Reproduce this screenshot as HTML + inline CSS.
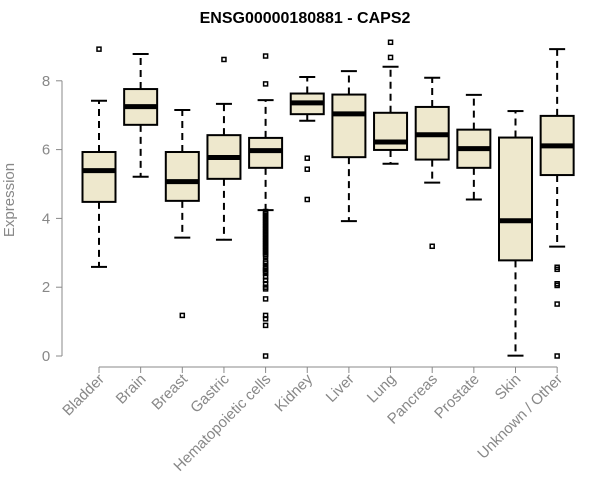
<!DOCTYPE html>
<html><head><meta charset="utf-8"><style>body{margin:0;background:#fff}svg{display:block;font-family:"Liberation Sans",Arial,sans-serif}</style></head>
<body>
<svg id="chart" width="600" height="500" viewBox="0 0 600 500">
<text x="305" y="23" text-anchor="middle" font-weight="bold" font-size="16">ENSG00000180881 - CAPS2</text>
<text transform="translate(14,200) rotate(-90)" text-anchor="middle" font-size="15" fill="#888">Expression</text>
<g id="yaxis"></g>
<g id="xaxis"></g>
<g id="boxes"></g>
</svg>
<script>
const categories=["Bladder","Brain","Breast","Gastric","Hematopoietic cells","Kidney","Liver","Lung","Pancreas","Prostate","Skin","Unknown / Other"];
const whiskerLow=[2.59,5.21,3.44,3.38,4.24,6.84,3.92,5.59,5.04,4.55,0.01,3.18];
const q1=[4.48,6.72,4.51,5.15,5.47,7.03,5.78,5.99,5.71,5.47,2.78,5.26];
const median=[5.39,7.25,5.07,5.77,5.97,7.36,7.04,6.22,6.43,6.03,3.93,6.11];
const q3=[5.93,7.76,5.93,6.42,6.34,7.63,7.60,7.07,7.24,6.58,6.35,6.98];
const whiskerHigh=[7.42,8.78,7.15,7.33,7.44,8.11,8.28,8.41,8.09,7.59,7.12,8.92];
const outliers=[[8.92],[],[1.18],[8.62],
[8.72,7.91,4.2,4.15,4.1,4.05,4.0,3.95,3.9,3.85,3.8,3.75,3.7,3.65,3.6,3.55,3.5,3.45,3.4,3.35,3.3,3.25,3.2,3.15,3.1,3.05,3.0,2.95,2.9,2.75,2.7,2.6,2.55,2.5,2.45,2.4,2.3,2.2,2.1,2.0,1.95,1.66,1.18,1.08,0.89,0],
[5.75,5.43,4.55],[],[9.12,8.68],[3.19],[],[],[2.58,2.52,2.1,2.05,1.51,0]];
const yTicks=[0,2,4,6,8];
const NS="http://www.w3.org/2000/svg";
const y=v=>356-v*34.4;
const x=i=>99+i*41.65;
function mk(t,a,p){const e=document.createElementNS(NS,t);for(const k in a)e.setAttribute(k,a[k]);p.appendChild(e);return e;}
const ya=document.getElementById('yaxis');
mk('line',{x1:62,x2:62,y1:y(0),y2:y(8),stroke:'#888'},ya);
yTicks.forEach(t=>{
 const l=mk('line',{x1:56,x2:62,y1:y(t),y2:y(t),stroke:'#888'},ya);
 
 
 const tx=mk('text',{x:46,y:y(t)+5,'text-anchor':'middle','font-size':15,fill:'#888'},ya);
 tx.textContent=t;
 
 
});
const xa=document.getElementById('xaxis');
mk('line',{x1:x(0),x2:x(11),y1:367,y2:367,stroke:'#888'},xa);
categories.forEach((c,i)=>{
 const l=mk('line',{x1:x(i),x2:x(i),y1:367,y2:373,stroke:'#888'},xa);
 
 
 const tx=mk('text',{transform:`translate(${x(i)+6},380) rotate(-45)`,'text-anchor':'end','font-size':15,fill:'#888'},xa);
 tx.textContent=c;
 
 
});
const bx=document.getElementById('boxes');
categories.forEach((c,i)=>{
 const g=mk('g',{},bx);
 
 
 const cx=x(i),w=16.5;
 mk('line',{x1:cx,x2:cx,y1:y(q3[i]),y2:y(whiskerHigh[i]),stroke:'#000','stroke-width':2,'stroke-dasharray':'7,5'},g);
 mk('line',{x1:cx,x2:cx,y1:y(q1[i]),y2:y(whiskerLow[i]),stroke:'#000','stroke-width':2,'stroke-dasharray':'7,5'},g);
 mk('line',{x1:cx-8,x2:cx+8,y1:y(whiskerHigh[i]),y2:y(whiskerHigh[i]),stroke:'#000','stroke-width':2},g);
 mk('line',{x1:cx-8,x2:cx+8,y1:y(whiskerLow[i]),y2:y(whiskerLow[i]),stroke:'#000','stroke-width':2},g);
 mk('rect',{x:cx-w,y:y(q3[i]),width:2*w,height:y(q1[i])-y(q3[i]),fill:'#EEE8CD',stroke:'#000','stroke-width':2},g);
 mk('line',{x1:cx-w,x2:cx+w,y1:y(median[i]),y2:y(median[i]),stroke:'#000','stroke-width':5},g);
 outliers[i].forEach(v=>{
  const r=mk('rect',{x:cx-2,y:y(v)-2,width:4,height:4,fill:'none',stroke:'#000','stroke-width':1.5},g);
  
  
 });
});
</script>
</body></html>
